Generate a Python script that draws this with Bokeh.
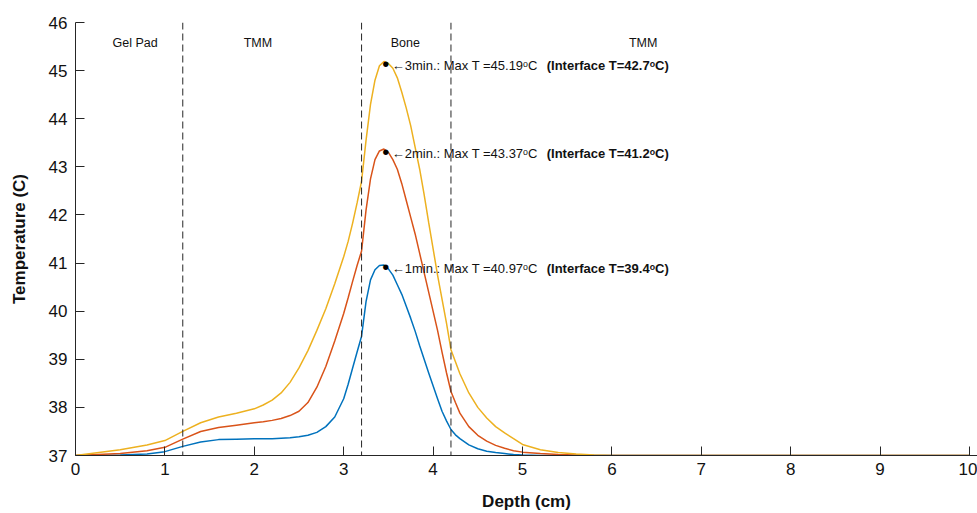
from bokeh.plotting import figure
from bokeh.models import Span, Range1d, ColumnDataSource, FixedTicker
from bokeh.core.properties import value
from bokeh.embed import file_html
from bokeh.resources import INLINE

# ---- data ----
depth = [0, 0.5, 0.8, 1.0, 1.2, 1.4, 1.6, 1.8, 2.0, 2.1, 2.2, 2.3, 2.4, 2.5, 2.6,
         2.7, 2.8, 2.9, 3.0, 3.05, 3.1, 3.15, 3.2, 3.25, 3.3, 3.35, 3.4, 3.45,
         3.5, 3.55, 3.6, 3.65, 3.7, 3.75, 3.8, 3.85, 3.9, 3.95, 4.0, 4.05, 4.1,
         4.15, 4.2, 4.25, 4.3, 4.4, 4.5, 4.6, 4.7, 4.8, 4.9, 5.0, 5.2, 5.4, 5.6,
         5.8, 6.0, 7.0, 8.0, 9.0, 10.0]

temp_1min = [37.00, 37.01, 37.03, 37.08, 37.19, 37.28, 37.33, 37.34, 37.35, 37.35,
             37.35, 37.36, 37.37, 37.39, 37.42, 37.48, 37.60, 37.80, 38.18, 38.48,
             38.82, 39.15, 39.48, 40.20, 40.65, 40.86, 40.95, 40.96, 40.88, 40.75,
             40.55, 40.35, 40.10, 39.85, 39.58, 39.28, 39.00, 38.72, 38.45, 38.18,
             37.92, 37.72, 37.54, 37.43, 37.35, 37.22, 37.14, 37.09, 37.06, 37.04,
             37.02, 37.01, 37.00, 37.00, 37.00, 37.00, 37.00, 37.00, 37.00, 37.00,
             37.00]

temp_2min = [37.00, 37.04, 37.10, 37.17, 37.34, 37.50, 37.58, 37.63, 37.68, 37.70,
             37.73, 37.77, 37.83, 37.92, 38.10, 38.42, 38.85, 39.38, 39.95, 40.28,
             40.62, 40.95, 41.25, 42.10, 42.75, 43.15, 43.33, 43.37, 43.30, 43.15,
             42.95, 42.65, 42.30, 41.95, 41.60, 41.20, 40.80, 40.40, 40.00, 39.60,
             39.15, 38.72, 38.33, 38.10, 37.88, 37.60, 37.42, 37.30, 37.21, 37.15,
             37.10, 37.07, 37.04, 37.02, 37.01, 37.00, 37.00, 37.00, 37.00, 37.00,
             37.00]

temp_3min = [37.00, 37.12, 37.22, 37.31, 37.50, 37.68, 37.80, 37.88, 37.97, 38.05,
             38.15, 38.30, 38.52, 38.82, 39.18, 39.60, 40.05, 40.57, 41.13, 41.45,
             41.83, 42.25, 42.70, 43.55, 44.30, 44.80, 45.10, 45.19, 45.15, 45.05,
             44.85, 44.55, 44.22, 43.85, 43.40, 42.95, 42.42, 41.85, 41.30, 40.75,
             40.25, 39.75, 39.20, 38.95, 38.70, 38.30, 38.00, 37.78, 37.60, 37.47,
             37.35, 37.23, 37.12, 37.06, 37.03, 37.01, 37.00, 37.00, 37.00, 37.00,
             37.00]

minutes = [1, 2, 3]
peak_depth = [3.47, 3.47, 3.47]
max_temp = [40.97, 43.37, 45.19]
interface_temp = [39.4, 41.2, 42.7]

boundaries = [1.2, 3.2, 4.2]
region_names = ["Gel Pad", "TMM", "Bone", "TMM"]
region_x = [0.666, 2.04, 3.69, 6.35]
region_y = [45.57, 45.57, 45.57, 45.57]

x_ticks = [0, 1, 2, 3, 4, 5, 6, 7, 8, 9, 10]
y_ticks = [37, 38, 39, 40, 41, 42, 43, 44, 45, 46]

colors = ["#0072BD", "#D95319", "#EDB120"]
FONT = "Liberation Sans"
INK = "#262626"

p = figure(width=977, height=513, x_range=Range1d(0, 10.09), y_range=Range1d(37, 46),
           output_backend="svg", toolbar_location=None,
           min_border_left=75, min_border_right=0, min_border_top=22, min_border_bottom=58)
p.outline_line_color = None
p.xgrid.visible = False
p.ygrid.visible = False
p.background_fill_color = "white"
p.border_fill_color = "white"

for ax in (p.xaxis[0], p.yaxis[0]):
    ax.axis_line_color = INK
    ax.axis_line_width = 1
    ax.major_tick_line_color = INK
    ax.major_tick_in = 9
    ax.major_tick_out = 0
    ax.minor_tick_line_color = None
    ax.major_label_text_font = FONT
    ax.major_label_text_font_size = "17px"
    ax.major_label_text_color = "#111111"
    ax.axis_label_text_font = FONT
    ax.axis_label_text_font_size = "17px"
    ax.axis_label_text_font_style = "bold"
    ax.axis_label_text_color = "#111111"

p.xaxis[0].ticker = FixedTicker(ticks=x_ticks)
p.yaxis[0].ticker = FixedTicker(ticks=y_ticks)
p.xaxis[0].axis_label = "Depth (cm)"
p.yaxis[0].axis_label = "Temperature (C)"
p.xaxis[0].major_label_standoff = 7
p.xaxis[0].axis_label_standoff = 14
p.yaxis[0].major_label_standoff = 8
p.yaxis[0].axis_label_standoff = 17

for b in boundaries:
    p.add_layout(Span(location=b, dimension="height", line_color=INK,
                      line_dash="7 4", line_width=1))

for t, c in zip([temp_1min, temp_2min, temp_3min], colors):
    p.line(depth, t, line_color=c, line_width=1.5)

p.text(x=region_x, y=region_y, text=region_names, text_font=value(FONT),
       text_font_size=value("12.5px"), text_align="center", text_baseline="middle",
       text_color="#111111")

src = ColumnDataSource(dict(
    x=peak_depth, y=max_temp,
    dot=["\u2022"] * len(minutes),
    lab=[f"\u2190{m}min.: Max T ={t:.2f}\u1d52C" for m, t in zip(minutes, max_temp)],
    bold=[f"(Interface T={it}\u1d52C)" for it in interface_temp],
))
p.text(x="x", y="y", text="dot", source=src, text_font=value(FONT),
       text_font_size=value("20px"), text_align="center", text_baseline="middle",
       y_offset=3, text_color="black")
p.text(x="x", y="y", text="lab", source=src, text_font=value(FONT),
       text_font_size=value("13px"), text_align="left", text_baseline="middle",
       x_offset=6, y_offset=4, text_color="#111111")
p.text(x="x", y="y", text="bold", source=src, text_font=value(FONT),
       text_font_size=value("13px"), text_font_style="bold", text_align="left",
       text_baseline="middle", x_offset=161, y_offset=4, text_color="#111111")

open("out.html", "w").write(file_html(p, INLINE))
